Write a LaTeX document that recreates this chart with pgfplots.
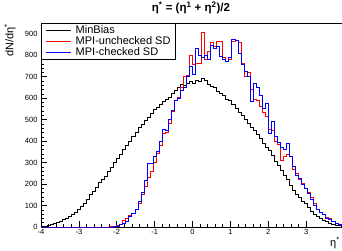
\documentclass[border=0pt]{standalone}
\usepackage{fontspec}
\setmainfont{Liberation Sans}
\usepackage{pgfplots}
\usepackage{pgfplotstable}
\pgfplotsset{compat=1.18}
\pgfplotstableread{
x mb unc chk
-4.00 2 0 0
-3.92 4 0 0
-3.84 8 0 0
-3.76 12 0 0
-3.68 16 0 0
-3.60 22 0 0
-3.52 28 0 0
-3.44 34 0 0
-3.36 42 0 0
-3.28 50 0 0
-3.20 60 0 0
-3.12 68 0 0
-3.04 82 0 0
-2.96 94 0 0
-2.88 112 0 0
-2.80 130 0 0
-2.72 152 0 0
-2.64 168 0 0
-2.56 186 0 0
-2.48 206 0 0
-2.40 222 0 0
-2.32 238 0 0
-2.24 258 0 0
-2.16 276 2 0
-2.08 300 4 2
-2.00 318 8 4
-1.92 336 12 10
-1.84 360 30 18
-1.76 380 40 28
-1.68 398 52 48
-1.60 422 62 62
-1.52 440 84 80
-1.44 462 110 118
-1.36 478 150 160
-1.28 498 190 215
-1.20 512 230 298
-1.12 528 260 298
-1.04 546 300 330
-0.96 556 345 350
-0.88 570 380 400
-0.80 586 435 455
-0.72 596 440 450
-0.64 604 484 500
-0.56 620 540 545
-0.48 634 590 590
-0.40 648 605 600
-0.32 662 650 635
-0.24 660 700 650
-0.16 668 705 700
-0.08 676 800 750
0.00 670 755 710
0.08 684 760 833
0.16 676 760 800
0.24 690 905 790
0.32 684 780 800
0.40 666 820 780
0.48 654 860 848
0.56 648 840 833
0.64 632 865 840
0.72 620 865 795
0.80 612 790 780
0.88 596 770 770
0.96 588 780 790
1.04 570 865 874
1.12 552 870 870
1.20 534 860 810
1.28 518 760 755
1.36 502 700 726
1.44 484 720 702
1.52 466 640 586
1.60 448 595 670
1.68 430 590 650
1.76 412 560 614
1.84 390 535 553
1.92 372 516 577
2.00 356 455 437
2.08 332 450 493
2.16 306 400 420
2.24 286 385 395
2.32 262 312 370
2.40 240 330 360
2.48 222 340 390
2.56 196 330 330
2.64 170 270 284
2.72 152 250 242
2.80 136 220 225
2.88 120 205 200
2.96 108 180 181
3.04 90 160 158
3.12 74 140 130
3.20 58 110 100
3.28 48 82 81
3.36 38 70 68
3.44 30 58 57
3.52 24 46 42
3.60 18 40 34
3.68 12 24 24
3.76 8 15 18
3.84 6 10 10
3.92 3 6 6
4.00 3 6 6
}\histdata
\begin{document}
\begin{tikzpicture}
\path[use as bounding box] (-41pt,-23pt) rectangle (301pt,227pt);
\begin{axis}[
  at={(0pt,0pt)}, anchor=south west,
  scale only axis, width=303pt, height=204pt,
  xmin=-4, xmax=4, ymin=0, ymax=950,
  xtick={-4,-3,-2,-1,0,1,2,3},
  ytick={0,100,200,300,400,500,600,700,800,900},
  minor x tick num=4, minor y tick num=4,
  tick align=inside, tick pos=left,
  major tick length=6pt, minor tick length=3pt,
  tick style={black, line width=0.6pt},
  axis line style={line width=0.8pt},
  /pgf/number format/assume math mode=true,
  tick label style={font=\fontsize{7.5}{9}\selectfont},
  xticklabel style={yshift=1pt},
  clip=false,
  legend style={at={(0,1)}, anchor=north west, draw=black, line width=0.8pt,
    font=\fontsize{11}{12}\selectfont, inner xsep=4pt, inner ysep=1.5pt,
    row sep=0.3pt, column sep=4pt,
    nodes={inner sep=0.5pt, text height=7.8pt, text depth=2pt}},
  legend cell align=left,
  legend image code/.code={\draw[#1, line width=0.8pt] (0pt,0pt) -- (25pt,0pt);},
]
\addplot[const plot, black, line width=0.8pt] table[x=x, y=mb] {\histdata};
\addlegendentry{MinBias}
\addplot[const plot, red, line width=0.8pt] table[x=x, y=unc] {\histdata};
\addlegendentry{MPI-unchecked SD\hspace{6pt}}
\addplot[const plot, blue, line width=0.8pt] table[x=x, y=chk] {\histdata};
\addlegendentry{MPI-checked SD}
\end{axis}
\node[font=\bfseries\fontsize{11.5}{13}\selectfont] at (150pt,219pt) {η\textsuperscript{*} = (η\textsuperscript{1} + η\textsuperscript{2})/2};
\node[rotate=90, anchor=east, font=\fontsize{11}{12}\selectfont] at (-31pt,207pt) {dN/dη\textsuperscript{*}};
\node[anchor=east, font=\fontsize{11}{12}\selectfont, inner sep=1pt] at (300pt,-16pt) {η\textsuperscript{*}};
\end{tikzpicture}
\end{document}
